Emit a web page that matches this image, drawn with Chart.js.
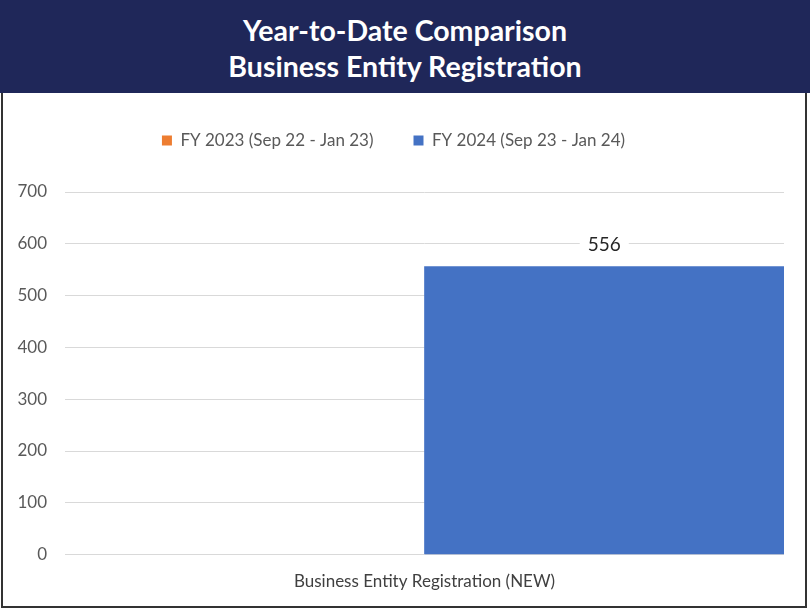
<!DOCTYPE html>
<html>
<head>
<meta charset="utf-8">
<script src="https://cdn.jsdelivr.net/npm/chart.js@4.4.1/dist/chart.umd.min.js"></script>
<style>
  body { margin: 0; background: #fff; font-family: Lato, 'Open Sans', sans-serif; }
  #banner {
    position: absolute; left: 0; top: 0; width: 810px; height: 93px;
    background: #1f2759; color: #fff; text-align: center;
    font-weight: bold; font-size: 28.5px; line-height: 36px;
    box-sizing: border-box; padding-top: 12px;
  }
  #box {
    position: absolute; left: 1px; top: 93px; width: 806px; height: 515px;
    border: 2px solid #333; border-top: none; box-sizing: border-box;
  }
  #wrap { position: absolute; left: 3px; top: 95px; width: 802px; height: 510px; }
</style>
</head>
<body>
<div id="banner">Year-to-Date Comparison<br>Business Entity Registration</div>
<div id="box"></div>
<div id="wrap"><canvas id="chart"></canvas></div>
<script>
const categories = ['Business Entity Registration (NEW)'];
const fy2023 = [null];
const fy2024 = [556];
const seriesNames = ['FY 2023 (Sep 22 - Jan 23)', 'FY 2024 (Sep 23 - Jan 24)'];
const yTicks = [0, 100, 200, 300, 400, 500, 600, 700];

// value label above each bar, white box cuts the gridline
const barLabels = {
  id: 'barLabels',
  afterDatasetsDraw(chart) {
    const ctx = chart.ctx;
    ctx.save();
    ctx.font = '19px Lato, sans-serif';
    ctx.textAlign = 'center';
    ctx.textBaseline = 'middle';
    chart.data.datasets.forEach((ds, i) => {
      chart.getDatasetMeta(i).data.forEach((bar, j) => {
        const v = ds.data[j];
        if (v === null || v === undefined) return;
        const txt = String(v);
        const w = ctx.measureText(txt).width + 16;
        const y = bar.y - 22;
        ctx.fillStyle = '#fff';
        ctx.fillRect(bar.x - w / 2, y - 11, w, 22);
        ctx.fillStyle = '#262626';
        ctx.fillText(txt, bar.x, y);
      });
    });
    ctx.restore();
  }
};

// extra room under the legend
const legendGap = {
  id: 'legendGap',
  afterInit(chart) {
    const lg = chart.legend;
    const fit = lg.fit.bind(lg);
    lg.fit = function () { fit(); this.height += 33; };
  }
};

new Chart(document.getElementById('chart'), {
  type: 'bar',
  data: {
    labels: categories,
    datasets: [
      { label: seriesNames[0], data: fy2023, backgroundColor: '#ed7d31' },
      { label: seriesNames[1], data: fy2024, backgroundColor: '#4472c4' },
    ],
  },
  options: {
    responsive: true,
    maintainAspectRatio: false,
    animation: false,
    layout: { padding: { top: -3, right: 21, bottom: 4, left: 0 } },
    datasets: { bar: { categoryPercentage: 1.0, barPercentage: 1.0 } },
    plugins: {
      legend: {
        position: 'top',
        labels: {
          boxWidth: 10, boxHeight: 10, padding: 40,
          color: '#595959', font: { family: 'Lato', size: 17 },
        },
      },
      tooltip: { enabled: false },
    },
    scales: {
      x: {
        grid: { display: false },
        border: { display: false },
        ticks: { color: '#404040', font: { family: 'Lato', size: 17 }, padding: 9 },
      },
      y: {
        min: 0, max: 700,
        afterBuildTicks: (s) => { s.ticks = yTicks.map(v => ({ value: v })); },
        afterFit: (s) => { s.width = 62; },
        grid: { color: '#d9d9d9', drawTicks: false },
        border: { display: false },
        ticks: { color: '#595959', font: { family: 'Lato', size: 17 }, padding: 18 },
      },
    },
  },
  plugins: [barLabels, legendGap],
});
</script>
</body>
</html>
